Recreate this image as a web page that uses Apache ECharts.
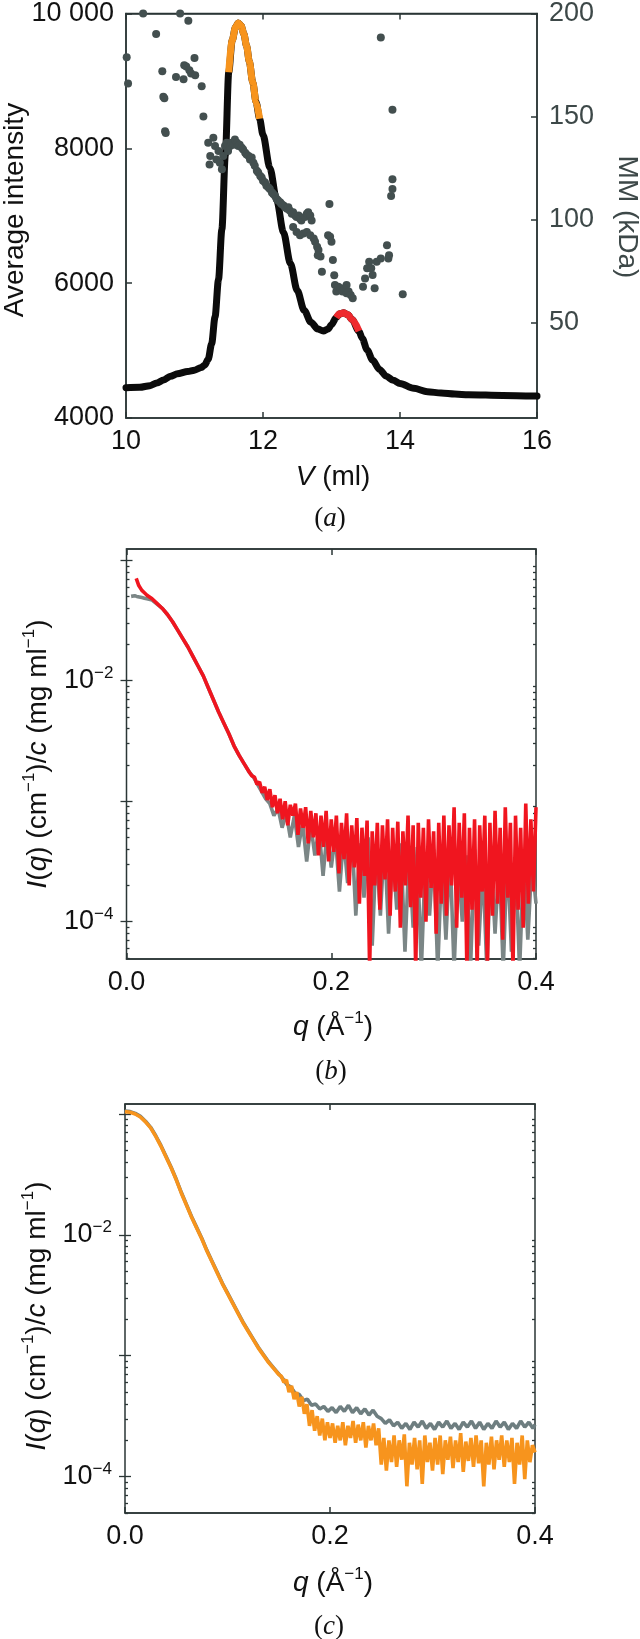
<!DOCTYPE html>
<html><head><meta charset="utf-8">
<script src="https://cdn.jsdelivr.net/npm/echarts@6/dist/echarts.min.js"></script>
<style>html,body{margin:0;padding:0;background:#fff}#c{width:640px;height:1639px}</style>
</head><body><div id="c"></div>
<script>
// ---------------- Panel (a): SEC elution profile ----------------
const volume = [10.0,10.2,10.35,10.45,10.55,10.65,10.75,10.9,11.0,11.1,11.15,11.2,11.25,11.3,11.35,11.4,11.45,11.5,11.55,11.6,11.64,11.68,11.72,11.76,11.8,11.85,11.9,11.95,12.0,12.1,12.2,12.3,12.4,12.5,12.6,12.7,12.8,12.88,12.95,13.0,13.07,13.12,13.18,13.24,13.3,13.4,13.45,13.52,13.6,13.7,13.8,13.9,14.0,14.2,14.4,14.6,14.8,15.0,15.5,16.0];
const avgIntensity = [4450,4455,4480,4520,4565,4620,4655,4690,4710,4750,4785,4870,5100,5500,6050,6800,7900,9130,9600,9800,9860,9820,9700,9520,9290,8980,8680,8440,8200,7710,7230,6750,6290,5890,5600,5420,5320,5290,5320,5385,5490,5545,5560,5530,5460,5290,5180,5010,4860,4720,4620,4560,4510,4440,4390,4370,4355,4345,4335,4325];
const orangeRange = [11.50, 11.95];
const redRange = [13.07, 13.40];
const mmVolume = [10.01,10.03,10.25,10.44,10.53,10.545,10.56,10.57,10.58,10.73,10.79,10.84,10.85,10.88,10.91,10.925,10.95,11.0,11.01,11.105,11.13,
 11.20,11.23,11.22,11.275,11.30,11.32,11.35,11.37,11.40,11.42,11.445,11.47,11.49,11.52,11.54,11.57,11.59,11.62,11.64,11.66,11.69,11.71,11.74,11.76,11.79,11.81,11.835,11.86,11.88,11.91,11.93,11.96,11.98,12.00,12.03,12.05,12.08,12.10,12.13,12.15,12.175,12.20,12.22,12.25,12.27,12.30,12.32,12.35,12.37,12.39,12.42,12.44,12.47,12.49,12.52,12.54,12.56,12.61,12.64,12.66,12.69,12.71,
 12.44,12.49,12.54,12.59,12.64,12.69,12.74,12.76,12.79,12.81,12.97,12.95,12.98,13.00,12.84,12.80,12.86,
 13.02,13.04,13.05,13.07,13.10,13.13,13.16,13.19,13.22,13.25,13.28,13.31,13.22,13.46,13.49,13.52,13.55,13.58,13.60,13.63,13.66,13.72,13.81,13.83,13.84,13.87,13.89,13.89,13.89,13.72,14.04];
const mmValue = [178.8,166,200,190,171.9,159.6,158.8,142.8,142,169.2,200,168,174.8,174.3,196.5,172.4,170.8,178.4,170,164.7,150,
 137.2,130.8,126.7,139.6,135.6,129.1,133.2,127.5,124.3,130.8,135.6,137.2,133.2,135.6,137.2,136.3,138.8,137.2,135.6,136.3,134.8,133.9,132.3,131.5,130.8,129.1,130,127.5,126,123.6,122.7,121.1,120.3,118.7,117.9,116.3,115.5,114.7,113.1,112.3,111.5,109.9,109.1,108.3,107.5,106.7,105.9,105.1,105.9,104.3,102.7,103.5,101.9,101.1,101.9,100.3,99.5,101.1,102.7,103.5,101.9,99.5,
 96.3,93.9,92.3,93.1,93.9,92.3,90.7,89.1,86.7,85.1,107.5,92.3,91.5,89.1,81.9,82.6,74.5,
 80.2,72.9,68.1,64.9,67.3,66.5,64.9,66.5,64.1,64.9,63.3,61.7,68.1,67.3,71.3,76.2,79.4,76.2,73.0,66.5,79.4,81.0,87.4,81.0,82.6,111.4,114.7,119.5,153.2,188.4,63.6];
const intensityTicks = [4000, 6000, 8000, 10000];
const mmTicks = [50, 100, 150, 200];

// ---------------- Panel (b): SAXS curves (log10 of I(q)/c) ----------------
const qB_redSmooth = [0.0095,0.012,0.015,0.0175,0.02,0.025,0.03,0.035,0.04,0.045,0.05,0.055,0.06,0.065,0.07,0.075,0.08,0.085,0.09,0.095,0.1,0.105,0.11,0.115,0.12];
const logB_redSmooth = [-1.15,-1.21,-1.25,-1.27,-1.29,-1.32,-1.36,-1.40,-1.45,-1.51,-1.58,-1.65,-1.72,-1.80,-1.88,-1.96,-2.06,-2.16,-2.26,-2.35,-2.44,-2.54,-2.62,-2.69,-2.76];
const qB_grayStart = [0.0045,0.006,0.008,0.01,0.0125,0.015,0.0175,0.02,0.025];
const logB_grayStart = [-1.30,-1.29,-1.295,-1.30,-1.305,-1.31,-1.315,-1.32,-1.33];
// noisy tails, sampled on a uniform q grid (start, step)
const qB_redNoiseGrid = [0.1225, 0.0025];
const logB_redNoise = [-2.79,-2.80,-2.86,-2.84,-2.93,-2.88,-2.99,-2.90,-3.05,-2.95,-3.10,-2.98,-3.15,-3.00,-3.20,-3.03,-3.12,-3.02,-3.28,-3.06,
 -3.22,-3.05,-3.35,-3.08,-3.30,-3.10,-3.45,-3.12,-3.38,-3.08,-3.50,-3.15,-3.42,-3.12,-3.60,-3.18,-3.48,-3.10,-3.70,-3.20,
 -3.55,-3.14,-3.85,-3.22,-3.62,-3.16,-4.40,-3.25,-3.70,-3.18,-3.90,-3.20,-3.65,-3.15,-3.95,-3.22,-3.75,-3.17,-4.05,-3.25,
 -3.70,-3.12,-3.88,-3.20,-4.40,-3.18,-3.80,-3.22,-4.00,-3.15,-3.72,-3.25,-4.10,-3.18,-3.85,-3.12,-3.95,-3.20,-3.70,-3.05,
 -4.05,-3.18,-3.80,-3.10,-4.40,-3.22,-3.90,-3.15,-4.40,-3.20,-3.75,-3.12,-4.40,-3.18,-3.95,-3.08,-3.85,-3.22,-4.15,-3.05,
 -3.80,-3.18,-4.40,-3.12,-3.90,-3.22,-4.05,-3.02,-3.85,-3.15,-3.75,-3.05];
const qB_grayNoiseGrid = [0.124, 0.004];
const logB_grayNoise = [-2.80,-2.86,-2.92,-2.98,-3.02,-3.12,-3.06,-3.22,-3.10,-3.30,-3.12,-3.38,-3.18,-3.50,-3.20,-3.45,-3.22,-3.62,-3.25,-3.55,
 -3.28,-3.75,-3.30,-3.68,-3.25,-3.95,-3.35,-3.80,-3.30,-4.20,-3.38,-3.95,-3.32,-4.10,-3.40,-3.90,-3.35,-4.25,-3.42,-4.05,
 -3.38,-4.40,-3.45,-3.95,-3.40,-4.40,-3.48,-4.15,-3.42,-4.40,-3.50,-4.00,-3.45,-4.40,-3.40,-4.20,-3.52,-4.40,-3.45,-4.10,
 -3.48,-4.40,-3.42,-4.25,-3.50,-4.40,-3.45,-4.15,-3.50,-3.85];

// ---------------- Panel (c): SAXS curves (log10 of I(q)/c) ----------------
const qC_smooth = [0,0.005,0.01,0.015,0.02,0.025,0.03,0.035,0.04,0.045,0.05,0.055,0.06,0.065,0.07,0.075,0.08,0.085,0.09,0.095,0.1,0.105,0.11,0.115,0.12,0.125,0.13,0.135,0.14,0.145,0.15];
const logC_smooth = [-0.975,-0.98,-0.995,-1.02,-1.06,-1.11,-1.18,-1.26,-1.35,-1.44,-1.54,-1.65,-1.75,-1.85,-1.94,-2.03,-2.13,-2.22,-2.31,-2.40,-2.48,-2.56,-2.64,-2.72,-2.79,-2.86,-2.93,-2.99,-3.05,-3.10,-3.15];
const qC_orangeNoiseGrid = [0.1525, 0.0025];
const logC_orangeNoise = [-3.17,-3.22,-3.20,-3.30,-3.25,-3.36,-3.30,-3.42,-3.34,-3.48,-3.40,-3.58,-3.45,-3.62,-3.50,-3.66,-3.52,-3.70,-3.55,-3.68,
 -3.56,-3.72,-3.58,-3.70,-3.55,-3.74,-3.58,-3.68,-3.54,-3.72,-3.57,-3.70,-3.55,-3.76,-3.58,-3.70,-3.56,-3.74,-3.60,-3.90,
 -3.68,-3.95,-3.70,-3.88,-3.66,-3.92,-3.70,-3.86,-3.65,-4.08,-3.72,-3.90,-3.68,-3.94,-3.70,-4.06,-3.66,-3.88,-3.72,-3.95,
 -3.68,-3.90,-3.66,-3.98,-3.70,-3.86,-3.67,-3.93,-3.70,-3.88,-3.64,-3.96,-3.71,-3.87,-3.68,-3.92,-3.66,-3.89,-3.70,-4.08,
 -3.72,-3.90,-3.67,-3.94,-3.70,-3.86,-3.66,-3.92,-3.70,-3.88,-3.68,-4.06,-3.72,-3.90,-3.66,-4.02,-3.70,-3.88,-3.74,-3.80];
const qC_grayNoiseGrid = [0.154, 0.004];
const logC_grayNoise = [-3.19,-3.24,-3.26,-3.31,-3.32,-3.37,-3.36,-3.41,-3.40,-3.44,-3.42,-3.46,-3.43,-3.47,-3.42,-3.46,-3.41,-3.47,-3.43,-3.48,
 -3.44,-3.49,-3.45,-3.50,-3.52,-3.56,-3.53,-3.58,-3.55,-3.60,-3.56,-3.61,-3.55,-3.59,-3.54,-3.60,-3.56,-3.61,-3.55,-3.59,
 -3.54,-3.60,-3.56,-3.61,-3.55,-3.59,-3.54,-3.60,-3.55,-3.61,-3.56,-3.60,-3.54,-3.59,-3.55,-3.61,-3.56,-3.60,-3.54,-3.59,-3.55,-3.60];
const qTicks = [0, 0.2, 0.4];
const logMajorTicks = [1e-4, 1e-3, 1e-2, 1e-1];
const logLabelTicks = [1e-4, 1e-2];

// ---------------- helpers ----------------
const FONT = 'Liberation Sans';
const SERIF = 'Liberation Serif';
const FRAME = '#2b3636';
const GRAYTXT = '#3d4848';
const TICKFS = 27;
function grid(g, n) { const out = []; for (let i = 0; i < n; i++) out.push(+(g[0] + i * g[1]).toFixed(5)); return out; }
function logPairs(xs, ls) { return xs.map((x, i) => [x, Math.pow(10, ls[i])]); }
const minorTicks = [];
for (let e = -5; e <= -1; e++) for (let k = 2; k <= 9; k++) minorTicks.push(+(k * Math.pow(10, e)).toPrecision(3));

const aBlack = volume.map((v, i) => [v, avgIntensity[i]]);
const aOrange = aBlack.filter(p => p[0] >= orangeRange[0] && p[0] <= orangeRange[1]);
const aRed = aBlack.filter(p => p[0] >= redRange[0] && p[0] <= redRange[1]);
const aDots = mmVolume.map((v, i) => [v, mmValue[i]]);

const bRed = logPairs(qB_redSmooth, logB_redSmooth).concat(logPairs(grid(qB_redNoiseGrid, logB_redNoise.length), logB_redNoise));
const bGray = logPairs(qB_grayStart, logB_grayStart).concat(logPairs(qB_redSmooth.slice(7), logB_redSmooth.slice(7)), logPairs(grid(qB_grayNoiseGrid, logB_grayNoise.length), logB_grayNoise));
const cGray = logPairs(qC_smooth, logC_smooth).concat(logPairs(grid(qC_grayNoiseGrid, logC_grayNoise.length), logC_grayNoise), [[0.4, Math.pow(10, -3.57)]]);
const cOrange = logPairs(qC_smooth, logC_smooth.map(v => v - 0.005)).concat(logPairs(grid(qC_orangeNoiseGrid, logC_orangeNoise.length), logC_orangeNoise));

const labelRich = {
  b: { fontFamily: FONT, fontSize: TICKFS, lineHeight: 32, color: '#111' },
  s: { fontFamily: FONT, fontSize: 17, lineHeight: 17, verticalAlign: 'top', color: '#111' }
};
const titleRich = {
  n: { fontFamily: FONT, fontSize: 28, lineHeight: 34, fill: '#111' },
  i: { fontFamily: FONT, fontSize: 28, lineHeight: 34, fontStyle: 'italic', fill: '#111' },
  s: { fontFamily: FONT, fontSize: 17, lineHeight: 17, verticalAlign: 'top', fill: '#111' }
};
const capRich = { p: { fontFamily: SERIF, fontSize: 27, fill: '#111' }, i: { fontFamily: SERIF, fontSize: 27, fontStyle: 'italic', fill: '#111' } };

const grids = [
  { left: 126, top: 9, width: 411, height: 409 },
  { left: 126.5, top: 549, width: 409.5, height: 410 },
  { left: 125, top: 1104, width: 410, height: 409 }
];
grids.forEach(g => { g.show = true; g.borderColor = FRAME; g.borderWidth = 1.5; g.containLabel = false; });

const lineStyleAxis = { show: true, lineStyle: { color: FRAME, width: 1.5 } };
function xAx(gi, min, max, interval, withLabels, pos, fmt) {
  return {
    type: 'value', gridIndex: gi, min, max, interval, position: pos,
    axisLine: lineStyleAxis, splitLine: { show: false },
    axisTick: { show: true, inside: true, length: 6, lineStyle: { color: FRAME, width: 1.5 } },
    axisLabel: withLabels ? { show: true, fontFamily: FONT, fontSize: TICKFS, color: '#111', margin: 10, formatter: fmt } : { show: false }
  };
}
function logAx(gi, pos, min, max, ticks, len, labels) {
  return {
    type: 'log', logBase: 10, gridIndex: gi, position: pos, min, max,
    axisLine: { show: false }, splitLine: { show: false },
    axisTick: { show: true, inside: true, length: len, customValues: ticks, lineStyle: { color: FRAME, width: 1.3 } },
    axisLabel: labels ? {
      show: true, customValues: labels, margin: 13,
      formatter: v => '{b|10}{s|\u2212' + (-Math.round(Math.log10(v))) + '}', rich: labelRich
    } : { show: false }
  };
}
const yNameSAXS = '{i|I}{n|(}{i|q}{n|) (cm}{s|\u22121}{n|)/}{i|c}{n| (mg ml}{s|\u22121}{n|)}';
const qName = '{i|q}{n| (\u00c5}{s|\u22121}{n|)}';
function txt(x, y, rot, text, rich, extra) {
  return { type: 'text', x, y, rotation: rot, z: 10,
    style: Object.assign({ text, rich, align: 'center', verticalAlign: 'middle' }, extra || {}) };
}

const option = {
  animation: false,
  backgroundColor: '#fff',
  grid: grids,
  xAxis: [
    xAx(0, 10, 16, 2, true, 'bottom', v => String(v)),
    xAx(0, 10, 16, 2, false, 'top'),
    xAx(1, 0, 0.4, 0.2, true, 'bottom', v => v.toFixed(1)),
    xAx(1, 0, 0.4, 0.2, false, 'top'),
    xAx(2, 0, 0.4, 0.2, true, 'bottom', v => v.toFixed(1)),
    xAx(2, 0, 0.4, 0.2, false, 'top')
  ],
  yAxis: [
    {
      type: 'value', gridIndex: 0, position: 'left', min: 4000, max: 10000, interval: 2000,
      axisLine: lineStyleAxis, splitLine: { show: false },
      axisTick: { show: true, inside: true, length: 6, lineStyle: { color: FRAME, width: 1.5 } },
      axisLabel: { fontFamily: FONT, fontSize: TICKFS, color: '#111', margin: 12, formatter: v => v === 10000 ? '10 000' : String(v) }
    },
    {
      type: 'value', gridIndex: 0, position: 'right', min: 3.5, max: 200,
      axisLine: lineStyleAxis, splitLine: { show: false },
      axisTick: { show: true, inside: true, length: 6, customValues: mmTicks, lineStyle: { color: FRAME, width: 1.5 } },
      axisLabel: { fontFamily: FONT, fontSize: TICKFS, color: GRAYTXT, margin: 12, customValues: mmTicks }
    },
    logAx(1, 'left', 4.9e-5, 0.124, logMajorTicks, 6, logLabelTicks),
    logAx(1, 'right', 4.9e-5, 0.124, logMajorTicks, 6, null),
    logAx(1, 'left', 4.9e-5, 0.124, minorTicks, 3, null),
    logAx(1, 'right', 4.9e-5, 0.124, minorTicks, 3, null),
    logAx(2, 'left', 5.0e-5, 0.121, logMajorTicks, 6, logLabelTicks),
    logAx(2, 'right', 5.0e-5, 0.121, logMajorTicks, 6, null),
    logAx(2, 'left', 5.0e-5, 0.121, minorTicks, 3, null),
    logAx(2, 'right', 5.0e-5, 0.121, minorTicks, 3, null)
  ],
  series: [
    { type: 'line', xAxisIndex: 0, yAxisIndex: 0, data: aBlack, showSymbol: false, smooth: 0.3, smoothMonotone: 'x', lineStyle: { color: '#0b0b0b', width: 7, cap: 'round' }, z: 2 },
    { type: 'line', xAxisIndex: 0, yAxisIndex: 0, data: aOrange, showSymbol: false, smooth: 0.3, smoothMonotone: 'x', lineStyle: { color: '#f7941d', width: 7 }, z: 3 },
    { type: 'line', xAxisIndex: 0, yAxisIndex: 0, data: aRed, showSymbol: false, smooth: 0.3, smoothMonotone: 'x', lineStyle: { color: '#ee2a2e', width: 7 }, z: 3 },
    { type: 'scatter', xAxisIndex: 0, yAxisIndex: 1, data: aDots, symbolSize: 8, itemStyle: { color: '#434f4f', opacity: 1 }, z: 4 },

    { type: 'line', xAxisIndex: 2, yAxisIndex: 2, data: bGray, showSymbol: false, lineStyle: { color: '#7b8686', width: 3.6 }, z: 2 },
    { type: 'line', xAxisIndex: 2, yAxisIndex: 2, data: bRed, showSymbol: false, lineStyle: { color: '#f0151f', width: 3.6 }, z: 3 },

    { type: 'line', xAxisIndex: 4, yAxisIndex: 6, data: cGray, showSymbol: false, lineStyle: { color: '#6e7e80', width: 3.6 }, z: 2 },
    { type: 'line', xAxisIndex: 4, yAxisIndex: 6, data: cOrange, showSymbol: false, lineStyle: { color: '#f7941d', width: 3.6 }, z: 3 }
  ],
  graphic: [
    // axis titles
    txt(15, 210, Math.PI / 2, 'Average intensity', null, { fontFamily: FONT, fontSize: 28, fill: '#111' }),
    txt(627, 217, -Math.PI / 2, 'MM (kDa)', null, { fontFamily: FONT, fontSize: 28, fill: GRAYTXT }),
    txt(333, 477, 0, '{i|V}{n| (ml)}', titleRich),
    txt(38, 754, Math.PI / 2, yNameSAXS, titleRich),
    txt(333, 1027, 0, qName, titleRich),
    txt(37, 1316, Math.PI / 2, yNameSAXS, titleRich),
    txt(333, 1583, 0, qName, titleRich),
    // panel captions
    txt(330, 519, 0, '{p|(}{i|a}{p|)}', capRich),
    txt(331, 1072, 0, '{p|(}{i|b}{p|)}', capRich),
    txt(329, 1627, 0, '{p|(}{i|c}{p|)}', capRich)
  ]
};
const chart = echarts.init(document.getElementById('c'), null, { renderer: 'canvas' });
chart.setOption(option);
</script>
</body></html>
